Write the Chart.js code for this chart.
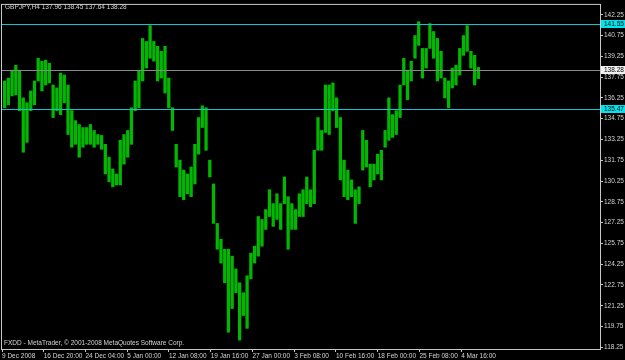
<!DOCTYPE html>
<html>
<head>
<meta charset="utf-8">
<script src="https://cdn.jsdelivr.net/npm/chart.js@4.4.1/dist/chart.umd.min.js"></script>
<style>
  html, body { margin: 0; padding: 0; background: #000; }
  #wrap { width: 625px; height: 360px; position: relative; }
</style>
</head>
<body>
<div id="wrap"><canvas id="grafico"></canvas></div>
<script>
// maximas e minimas de cada barra (GBPJPY H4)
const maximas = [
  137.47, 137.68, 138.25, 138.61, 138.18, 136.25, 135.90, 136.75, 137.47, 139.11,
  138.90, 138.97, 138.75, 137.18, 136.97, 138.04, 137.90, 137.18, 135.33, 134.61,
  134.33, 134.11, 134.11, 134.33, 133.90, 133.61, 133.54, 132.90, 131.97, 131.12,
  130.76, 133.19, 133.61, 133.90, 135.54, 137.47, 138.18, 140.54, 140.32, 141.46,
  140.32, 139.97, 139.61, 139.97, 137.68, 135.54, 132.90, 131.76, 131.04, 130.76,
  131.26, 132.90, 134.83, 135.68, 135.54, 131.76, 130.04, 127.19, 126.05, 125.33,
  125.33, 124.83, 123.91, 122.91, 122.19, 123.41, 125.05, 125.55, 127.69, 127.48,
  128.19, 129.62, 128.62, 129.33, 128.62, 130.54, 129.12, 128.62, 128.19, 129.33,
  129.62, 130.54, 129.62, 132.47, 134.83, 133.90, 137.18, 137.18, 137.33, 136.25,
  134.83, 131.76, 131.04, 130.33, 129.62, 129.83, 133.90, 133.19, 131.47, 131.47,
  132.19, 132.47, 133.90, 136.25, 135.04, 135.33, 137.18, 139.11, 138.18, 138.90,
  140.75, 141.75, 139.82, 139.82, 141.61, 141.04, 140.54, 139.61, 137.68, 137.47,
  138.40, 138.61, 139.82, 140.75, 141.46, 139.61, 139.32, 138.45
];
const minimas = [
  135.54, 135.75, 136.40, 136.47, 135.33, 132.33, 133.04, 135.33, 135.75, 137.47,
  136.75, 137.18, 137.33, 134.83, 135.33, 135.04, 135.90, 133.61, 132.69, 132.90,
  131.97, 132.69, 132.90, 132.90, 132.69, 132.90, 132.54, 130.76, 130.19, 129.83,
  129.97, 129.97, 131.47, 131.97, 132.90, 135.33, 135.54, 137.47, 138.40, 139.11,
  138.90, 137.47, 137.68, 136.60, 135.54, 133.90, 131.26, 129.12, 128.90, 129.33,
  129.12, 130.04, 132.19, 134.11, 132.47, 130.54, 127.19, 125.33, 124.33, 122.91,
  119.34, 121.05, 122.19, 118.77, 120.55, 119.62, 123.19, 124.33, 124.83, 125.55,
  126.76, 127.69, 126.98, 127.48, 126.76, 128.62, 125.33, 126.76, 126.76, 127.69,
  127.69, 128.62, 128.40, 128.62, 132.47, 132.47, 133.76, 133.61, 135.33, 134.11,
  130.33, 129.12, 128.90, 129.12, 127.19, 128.62, 131.04, 131.26, 129.83, 130.33,
  130.76, 130.33, 132.69, 133.19, 133.40, 133.61, 134.83, 137.18, 136.11, 137.47,
  139.11, 140.04, 137.68, 138.40, 139.82, 139.11, 137.47, 137.68, 136.25, 135.54,
  136.97, 137.18, 137.90, 139.32, 139.61, 138.40, 137.18, 137.64
];

const rotulosTempo = ['9 Dec 2008', '16 Dec 20:00', '24 Dec 04:00', '5 Jan 00:00', '12 Jan 08:00',
  '19 Jan 16:00', '27 Jan 00:00', '3 Feb 08:00', '10 Feb 16:00', '18 Feb 00:00', '25 Feb 08:00', '4 Mar 16:00'];
const rotulosPreco = [118.25, 119.75, 121.25, 122.75, 124.25, 125.75, 127.25, 128.75, 130.25,
  131.75, 133.25, 134.75, 136.25, 137.75, 139.25, 140.75, 142.25];

const niveis = [141.55, 135.47];
const precoAtual = 138.28;
const cabecalho = 'GBPJPY,H4 137.96 138.45 137.64 138.28';
const rodape = 'FXDD - MetaTrader, \u00a9 2001-2008 MetaQuotes Software Corp.';

const fonte = { family: '"Liberation Sans", Arial, sans-serif', size: 6.5 };
const passoX = 11.19; // barras entre rotulos de tempo

let barras = maximas.map(function(h, i) { return { x: i, y: [minimas[i], h] }; });

// linhas horizontais, caixas de preco e textos
const extras = {
  id: 'extras',
  afterDatasetsDraw(chart) {
    const ctx = chart.ctx, ca = chart.chartArea, y = chart.scales.y;
    ctx.save();
    ctx.lineWidth = 1;
    function linha(v, cor) {
      const py = Math.round(y.getPixelForValue(v)) + 0.5;
      ctx.strokeStyle = cor;
      ctx.beginPath(); ctx.moveTo(ca.left, py); ctx.lineTo(ca.right, py); ctx.stroke();
    }
    niveis.forEach(function(v) { linha(v, '#12c4cc'); });
    linha(precoAtual, '#8a8a8a');

    ctx.strokeStyle = '#c8c8c8';
    ctx.strokeRect(ca.left - 0.5, ca.top - 0.5, ca.right - ca.left + 1, ca.bottom - ca.top + 1);

    ctx.font = fonte.size + 'px ' + fonte.family;
    ctx.textBaseline = 'middle';
    ctx.textAlign = 'left';
    function caixa(v, fundo) {
      const py = Math.round(y.getPixelForValue(v));
      ctx.fillStyle = fundo;
      ctx.fillRect(ca.right + 1, py - 4, 625 - ca.right - 1, 8);
      ctx.fillStyle = '#000';
      ctx.fillText(v.toFixed(2), ca.right + 4, py + 0.5);
    }
    niveis.forEach(function(v) { caixa(v, '#00e4ee'); });
    caixa(precoAtual, '#f0f0f0');

    ctx.fillStyle = '#d4d4d4';
    ctx.fillText(cabecalho, 5, 7);
    ctx.fillText(rodape, 4, 343);
    ctx.restore();
  }
};

var ctxGrafico = document.getElementById('grafico').getContext('2d');
var grafico = new Chart(ctxGrafico, {
  type: 'bar',
  data: {
    datasets: [{
      data: barras,
      backgroundColor: '#00b800',
      barThickness: 2.6,
      borderWidth: 0
    }]
  },
  options: {
    responsive: true,
    maintainAspectRatio: false,
    animation: false,
    layout: { padding: { left: 2, top: 1, right: 0, bottom: 0 } },
    plugins: { legend: { display: false }, tooltip: { enabled: false } },
    scales: {
      x: {
        type: 'linear',
        offset: false,
        min: -0.7,
        max: 159.6,
        afterBuildTicks: function(eixo) {
          eixo.ticks = rotulosTempo.map(function(t, k) { return { value: -0.7 + k * passoX }; });
        },
        afterFit: function(eixo) { eixo.height = 11; },
        grid: { drawOnChartArea: false, offset: false, tickLength: 3, color: '#c8c8c8' },
        border: { display: false },
        ticks: {
          autoSkip: false, maxRotation: 0, minRotation: 0, align: 'start', padding: 0,
          color: '#d4d4d4', font: fonte,
          callback: function(v, i) { return rotulosTempo[i]; }
        }
      },
      y: {
        position: 'right',
        min: 118.13,
        max: 142.96,
        afterBuildTicks: function(eixo) {
          eixo.ticks = rotulosPreco.map(function(v) { return { value: v }; });
        },
        afterFit: function(eixo) { eixo.width = 25; },
        grid: { drawOnChartArea: false, tickLength: 3, color: '#c8c8c8' },
        border: { display: false },
        ticks: {
          padding: 1, color: '#d4d4d4', font: fonte,
          callback: function(v) { return Number(v).toFixed(2); }
        }
      }
    }
  },
  plugins: [extras]
});
</script>
</body>
</html>
